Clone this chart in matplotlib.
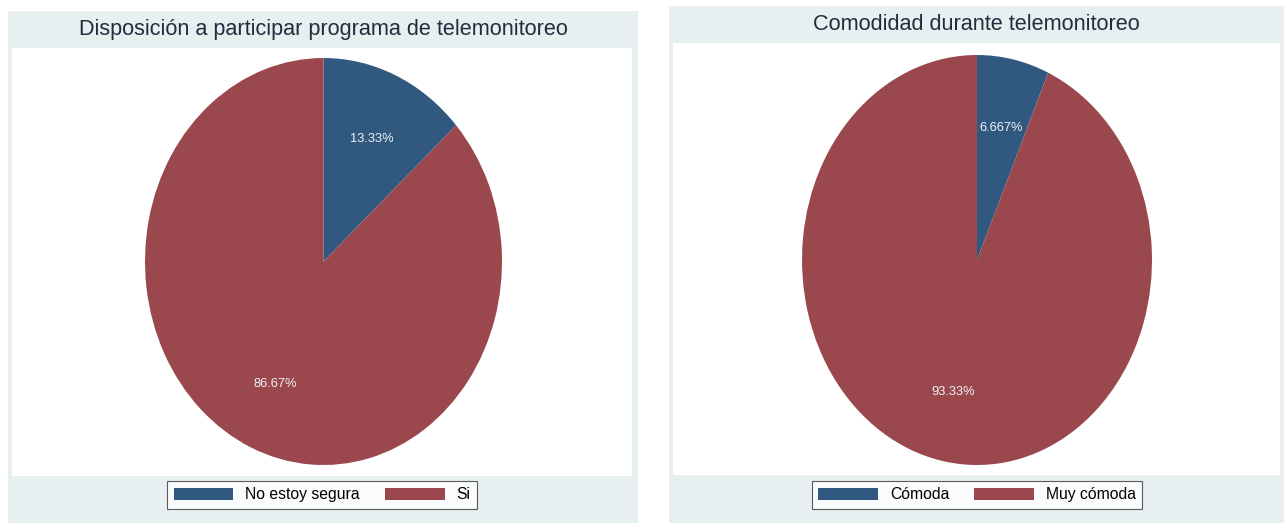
import matplotlib
matplotlib.use('Agg')
from matplotlib import pyplot as plt
from matplotlib.patches import Rectangle

plt.rcParams['font.family'] = ['Liberation Sans', 'DejaVu Sans']

# data
titles = ['Disposición a participar programa de telemonitoreo',
          'Comodidad durante telemonitoreo']
labels_left = ['No estoy segura', 'Si']
values_left = [13.33, 86.67]
labels_right = ['Cómoda', 'Muy cómoda']
values_right = [6.667, 93.33]

W, H = 1284, 523
navy = '#31597f'
maroon = '#9a484e'
panel_bg = '#e8eff1'

fig = plt.figure(figsize=(W/100., H/100.), dpi=100)
fig.patch.set_facecolor('white')


def fbox(x0, y0, x1, y1):
    # pixel box (top-left origin) -> figure coords
    return [x0/float(W), 1 - y1/float(H), (x1-x0)/float(W), (y1-y0)/float(H)]


def rect(x0, y0, x1, y1, col):
    b = fbox(x0, y0, x1, y1)
    fig.add_artist(Rectangle((b[0], b[1]), b[2], b[3], transform=fig.transFigure,
                             fc=col, ec='none', zorder=0))


#### panels ##################################
panels = [
    dict(outer=(8, 11, 638, 523), inner=(12, 48, 632, 476), pie=(145, 58, 502, 465),
         title_y=30, legend_y=481, legend_x=322),
    dict(outer=(669, 6, 1284, 523), inner=(673, 43, 1280, 475), pie=(802, 55, 1152, 465),
         title_y=24, legend_y=481, legend_x=977),
]
data = [(values_left, labels_left), (values_right, labels_right)]

for i, p in enumerate(panels):
    rect(*p['outer'], col=panel_bg)
    rect(*p['inner'], col='white')
    cx = (p['outer'][0] + p['outer'][2]) / 2.
    fig.text(cx/float(W), 1 - p['title_y']/float(H), titles[i], ha='center', va='center',
             size=15.6, color='#1f2d3d')

    vals, labs = data[i]
    ax = fig.add_axes(fbox(*p['pie']))
    wedges, texts, autotexts = ax.pie(vals, colors=[navy, maroon], startangle=90,
                                      counterclock=False, radius=1.0,
                                      autopct=lambda pc: '%.4g%%' % pc, pctdistance=0.66,
                                      wedgeprops=dict(linewidth=0),
                                      textprops=dict(color='#eef2f6', size=9.3))
    ax.set_aspect('auto')
    ax.set_xlim(-1, 1)
    ax.set_ylim(-1, 1)
    ax.axis('off')

    leg = fig.legend(wedges, labs, loc='upper center', ncol=2,
                     bbox_to_anchor=(p['legend_x']/float(W), 1 - p['legend_y']/float(H)),
                     fontsize=11.3, frameon=True, fancybox=False, edgecolor='#333333',
                     handlelength=3.8, handleheight=0.8, handletextpad=0.75,
                     columnspacing=1.6, borderpad=0.4, borderaxespad=0)
    leg.get_frame().set_linewidth(0.8)
    leg.get_frame().set_facecolor('white')

plt.savefig('out.png', dpi=100)
